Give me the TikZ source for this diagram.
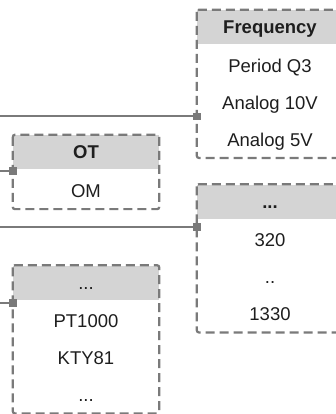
\documentclass[tikz,border=0pt]{standalone}
\usepackage{fontspec}
\setmainfont{Liberation Sans}
\usetikzlibrary{positioning}
\definecolor{framegray}{HTML}{7A7A7A}
\definecolor{headgray}{HTML}{D4D4D4}
\definecolor{txtgray}{HTML}{1E1E1E}
\tikzset{
  hdr/.style={fill=headgray, minimum width=146pt, minimum height=34pt, inner sep=0pt,
    font=\fontsize{18.5}{22}\selectfont\bfseries, text=txtgray, text height=13.3pt, text depth=0pt},
  row/.style={minimum width=146pt, minimum height=36.5pt, inner sep=0pt,
    font=\fontsize{18.5}{22}\selectfont, text=txtgray, text height=13.3pt, text depth=0pt},
  frame/.style={draw=framegray, line width=2.2pt, dash pattern=on 9pt off 5pt, rounded corners=2pt},
  link/.style={draw=framegray, line width=2pt},
  port/.style={fill=framegray, minimum size=7.5pt, inner sep=0pt},
}
\begin{document}
\begin{tikzpicture}[x=1pt,y=1pt]
\useasboundingbox (0,0) rectangle (336,-414);
% frequency box
\node[hdr] (freq) at (270,-27) {Frequency};
\node[row, below=3pt of freq] (period) {Period Q3};
\node[row, below=0pt of period] (an10) {Analog 10V};
\node[row, below=0pt of an10] (an5) {Analog 5V};
\draw[frame] (freq.north west) rectangle (an5.south east);
% ot box
\node[hdr] (ot) at (86,-152) {OT};
\node[row, below=3pt of ot] (om) {OM};
\draw[frame] (ot.north west) rectangle (om.south east);
% range box
\node[hdr] (range) at (270,-201.5) {...};
\node[row, below=3pt of range] (r320) {320};
\node[row, below=0pt of r320] (rdots) {..};
\node[row, below=0pt of rdots] (r1330) {1330};
\draw[frame] (range.north west) rectangle (r1330.south east);
% sensor box
\node[hdr, font=\fontsize{18.5}{22}\selectfont] (sensor) at (86,-282.5) {...};
\node[row, below=3pt of sensor] (pt) {PT1000};
\node[row, below=0pt of pt] (kty) {KTY81};
\node[row, below=0pt of kty] (sdots) {...};
\draw[frame] (sensor.north west) rectangle (sdots.south east);
% links
\coordinate (in1) at (0,-116.5);
\coordinate (in2) at (0,-171);
\coordinate (in3) at (0,-227);
\coordinate (in4) at (0,-303);
\node[port] (p1) at (in1 -| freq.west) {};
\node[port] (p2) at (in2 -| ot.west) {};
\node[port] (p3) at (in3 -| range.west) {};
\node[port] (p4) at (in4 -| sensor.west) {};
\draw[link] (in1) -- (p1);
\draw[link] (in2) -- (p2);
\draw[link] (in3) -- (p3);
\draw[link] (in4) -- (p4);
\end{tikzpicture}
\end{document}
